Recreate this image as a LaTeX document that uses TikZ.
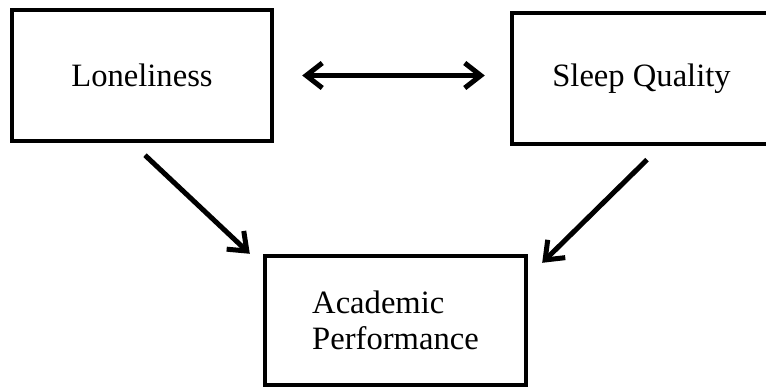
\documentclass[tikz,border=0pt]{standalone}
\usepackage{fontspec}
\setmainfont{Liberation Serif}
\usepackage{tikz}
\usetikzlibrary{arrows.meta,positioning}

\begin{document}
\begin{tikzpicture}[
  x=0.5pt, y=-0.5pt,
  box/.style={draw, line width=2.2pt, align=left, inner sep=0pt,
              font=\fontsize{16.3}{18}\selectfont,
              minimum width=130pt, minimum height=65.5pt},
  arr/.style={{Straight Barb[length=8pt,width=12.5pt]}-{Straight Barb[length=8pt,width=12.5pt]},
              line width=2.5pt},
  dirarr/.style={-{Straight Barb[length=8pt,width=12.5pt]}, line width=2.5pt}
]
\useasboundingbox (0,0) rectangle (766,390);
\begin{scope}
\clip (0,0) rectangle (766,390);
\node[box] (lone) at (142,75.5) {Loneliness};
\node[box, minimum width=129.5pt] (sleep) at (641.5,78.5) {Sleep Quality};
\node[box, minimum width=130.5pt, minimum height=64.5pt] (acad) at (395.5,320.5)
      {Academic\\Performance};
\end{scope}
\draw[arr, shorten <=14pt, shorten >=12.5pt] (lone.east) -- (lone.east -| sleep.west);
\draw[dirarr] ([shift={(1.5pt,-6pt)}]lone.south) -- ([xshift=-6.5pt]acad.north west);
\draw[dirarr] ([shift={(2.75pt,-6.75pt)}]sleep.south) -- ([shift={(7pt,-4.5pt)}]acad.north east);
\end{tikzpicture}
\end{document}
